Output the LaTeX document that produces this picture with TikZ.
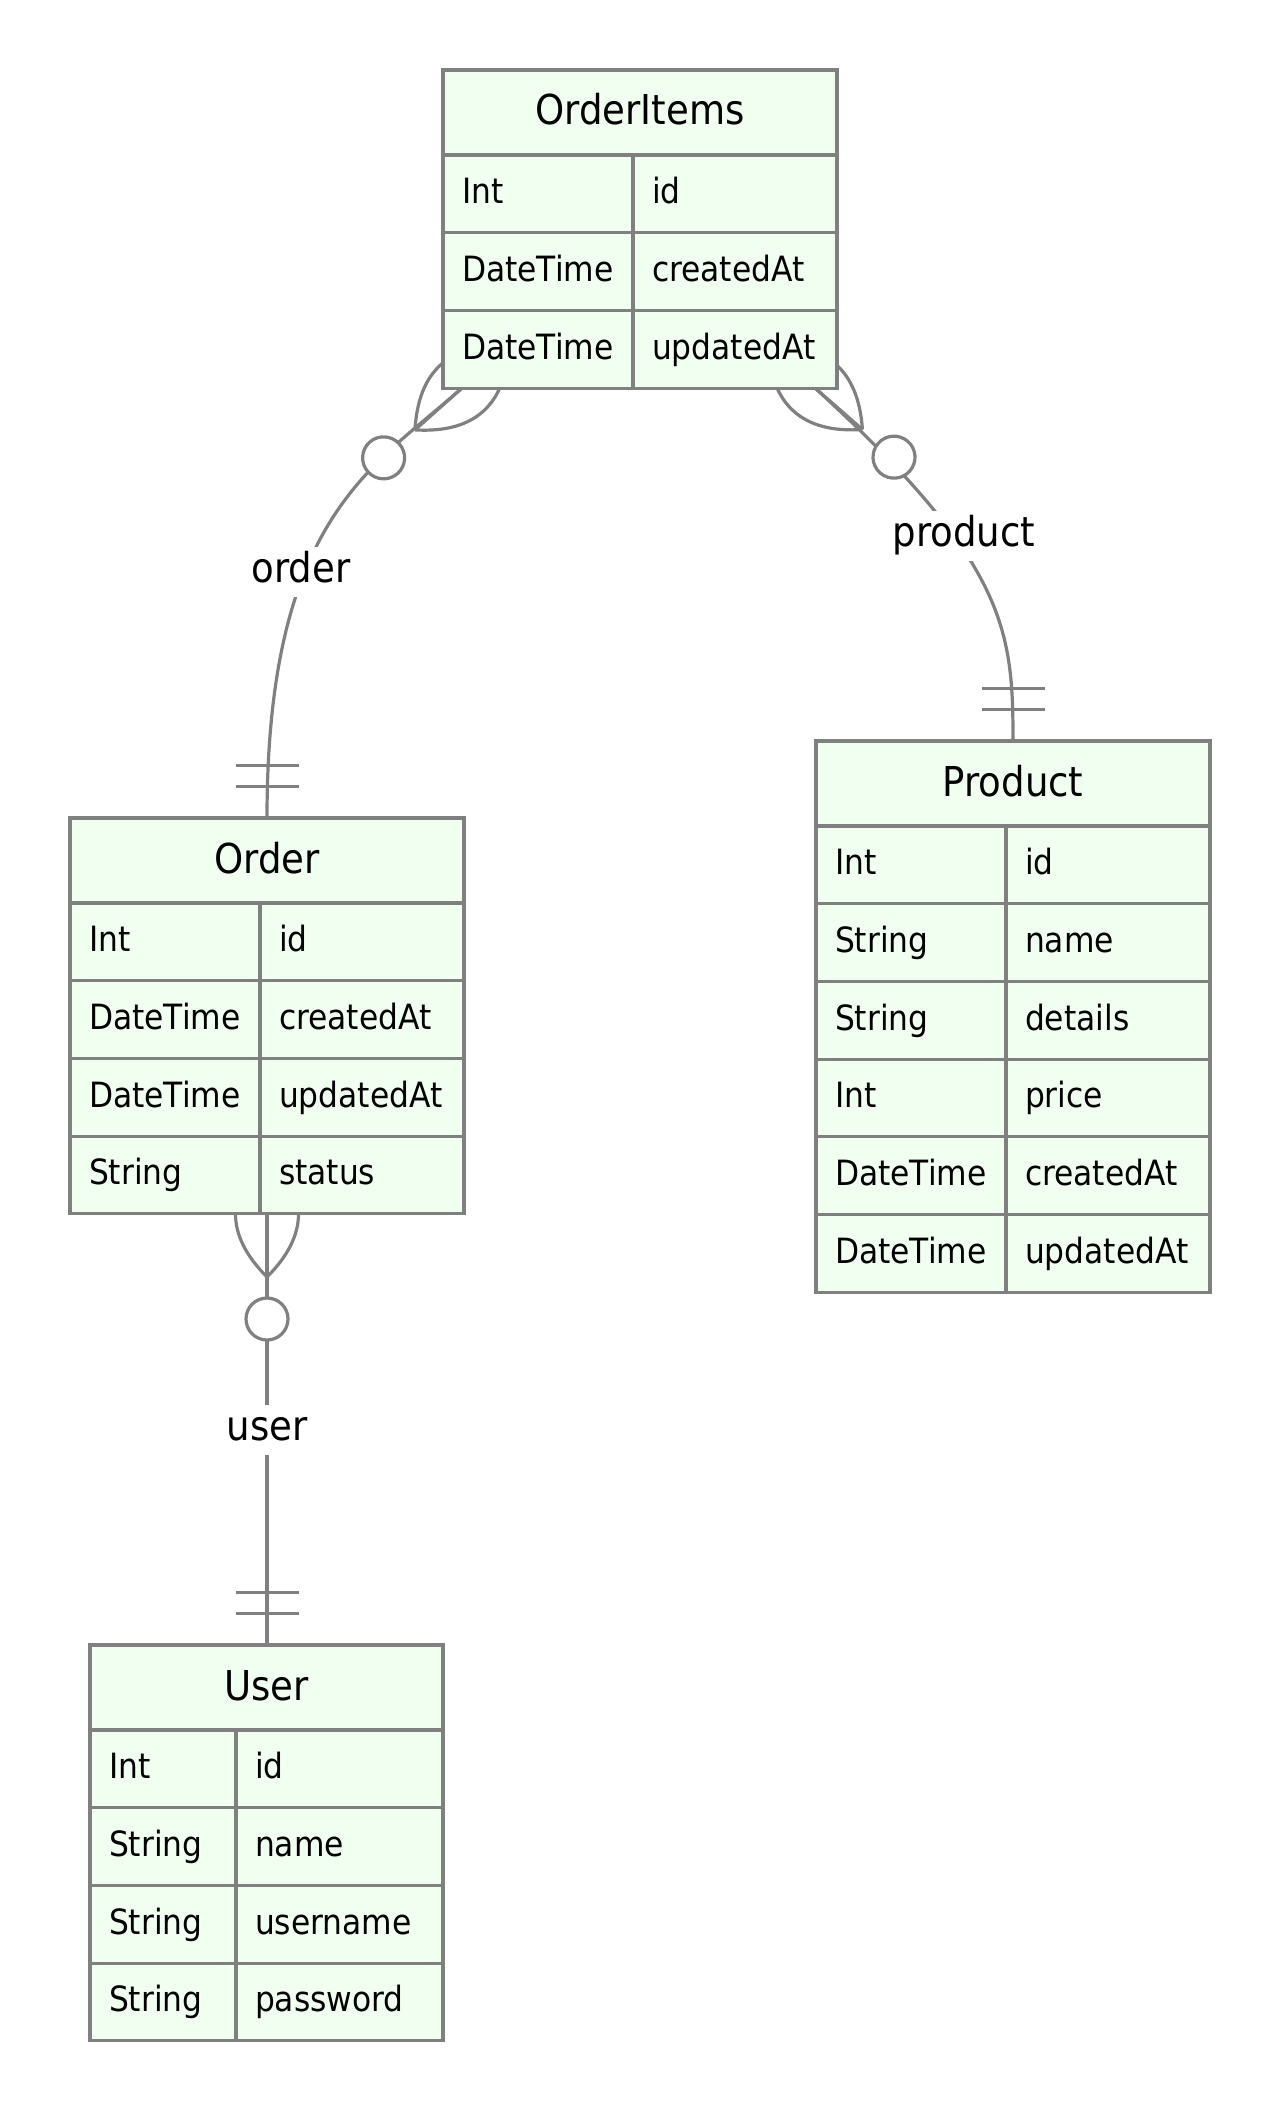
\documentclass[tikz,border=0pt]{standalone}
\usepackage{fontspec}
\setmainfont{DejaVu Sans}[FakeStretch=0.9]
\definecolor{efill}{RGB}{240,255,240}
\definecolor{eline}{RGB}{128,128,128}
\tikzset{
  ehead/.style={draw=eline, line width=1.6pt, fill=efill, anchor=north west, outer sep=0pt,
    minimum height=42.5pt, inner sep=0pt, font=\fontsize{20.6}{24}\selectfont,
    text height=15pt, text depth=2.5pt},
  ecell/.style={draw=eline, line width=1.6pt, fill=efill, anchor=north west, outer sep=0pt,
    minimum height=38.85pt, inner xsep=9.5pt, inner ysep=0pt, align=left,
    font=\fontsize{17.4}{20}\selectfont, text height=12.5pt, text depth=2.5pt},
  rel/.style={draw=eline, line width=1.6pt},
  rlabel/.style={fill=white, inner sep=2.5pt, font=\fontsize{20.6}{24}\selectfont,
    text height=15pt, text depth=5pt},
}
\newcommand\crowfoot[2]{%
  \begin{scope}[shift={(#1)}, rotate=#2]
    \draw[rel] (-63,0) -- (0,0);
    \draw[rel] (-63,0) .. controls (-21,42) and (21,42) .. (63,0);
    \draw[rel] (-63,0) .. controls (-21,-42) and (21,-42) .. (63,0);
    \draw[rel, fill=white] (-105,0) circle[radius=21];
  \end{scope}}
\newcommand\onlyone[2]{%
  \begin{scope}[shift={(#1)}, rotate=#2]
    \draw[rel] (-52.5,-31.5) -- (-52.5,31.5) (-31.5,-31.5) -- (-31.5,31.5);
  \end{scope}}
\newcommand\erow[7]{%
  \node[ecell, text width=#4] (#1a) at (#2) {#6};
  \node[ecell, text width=#5] (#1b) at (#1a.north east) {#7};}
\begin{document}
\begin{tikzpicture}[x=0.5pt, y=-0.5pt]
\useasboundingbox (0,0) rectangle (1280,2113);

% connector end points
\coordinate (e1) at (462,388);
\coordinate (e2) at (815,388);
\coordinate (ordtop) at (267,818);
\coordinate (prodtop) at (1013,741);
\coordinate (ordbot) at (267,1214);
\coordinate (usertop) at (267,1645);

% connectors
\draw[rel] (e1) .. controls (372.5,467.8) and (267,518) .. (ordtop);
\draw[rel] (e2) .. controls (1007,563.5) and (1013,630) .. (prodtop);
\draw[rel] (ordbot) -- (usertop);

\crowfoot{e1}{41.7}
\crowfoot{e2}{138.8}
\crowfoot{ordbot}{90}
\onlyone{ordtop}{-90}
\onlyone{prodtop}{-90}
\onlyone{usertop}{-90}

\node[rlabel] (lorder) at (301,572) {order};
\node[rlabel] (lproduct) at (964,536) {product};
\node[rlabel] (luser) at (267,1430) {user};

% OrderItems
\node[ehead, minimum width=197pt] (oiH) at (443,70) {OrderItems};
\erow{oi1}{oiH.south west}{}{76pt}{83pt}{Int}{id}
\erow{oi2}{oi1a.south west}{}{76pt}{83pt}{DateTime}{createdAt}
\erow{oi3}{oi2a.south west}{}{76pt}{83pt}{DateTime}{updatedAt}

% Order
\node[ehead, minimum width=197pt] (ordH) at (70,818) {Order};
\erow{or1}{ordH.south west}{}{76pt}{83pt}{Int}{id}
\erow{or2}{or1a.south west}{}{76pt}{83pt}{DateTime}{createdAt}
\erow{or3}{or2a.south west}{}{76pt}{83pt}{DateTime}{updatedAt}
\erow{or4}{or3a.south west}{}{76pt}{83pt}{String}{status}

% Product
\node[ehead, minimum width=197pt] (prH) at (816,741) {Product};
\erow{pr1}{prH.south west}{}{76pt}{83pt}{Int}{id}
\erow{pr2}{pr1a.south west}{}{76pt}{83pt}{String}{name}
\erow{pr3}{pr2a.south west}{}{76pt}{83pt}{String}{details}
\erow{pr4}{pr3a.south west}{}{76pt}{83pt}{Int}{price}
\erow{pr5}{pr4a.south west}{}{76pt}{83pt}{DateTime}{createdAt}
\erow{pr6}{pr5a.south west}{}{76pt}{83pt}{DateTime}{updatedAt}

% User
\node[ehead, minimum width=176.5pt] (usH) at (90,1645) {User};
\erow{us1}{usH.south west}{}{54pt}{84.5pt}{Int}{id}
\erow{us2}{us1a.south west}{}{54pt}{84.5pt}{String}{name}
\erow{us3}{us2a.south west}{}{54pt}{84.5pt}{String}{username}
\erow{us4}{us3a.south west}{}{54pt}{84.5pt}{String}{password}
\end{tikzpicture}
\end{document}
